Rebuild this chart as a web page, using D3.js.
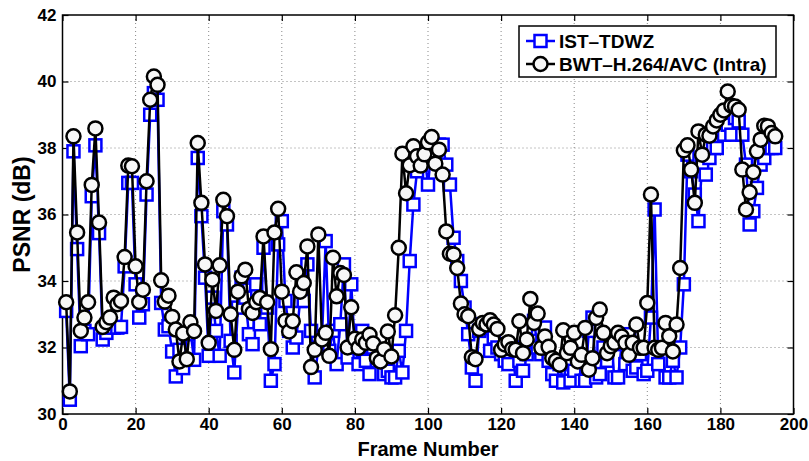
<!DOCTYPE html>
<html><head><meta charset="utf-8">
<script src="https://cdn.jsdelivr.net/npm/d3@7"></script>
<style>body{margin:0;background:#fff}svg{display:block}text{font-family:"Liberation Sans",Arial,sans-serif;font-weight:bold}</style>
</head><body><svg id="c" width="809" height="461"></svg>
<script>
const istTDWZ = [33.1,30.43,37.9,34.96,32.04,32.5,32.4,36.55,38.08,35.44,32.24,32.44,32.6,32.6,32.6,32.62,34.44,36.95,36.95,33.9,
32.9,33.3,36.6,39.0,39.65,39.45,33.34,32.54,32.64,31.88,31.13,31.93,31.38,32.4,32.5,31.63,37.7,35.95,34.1,31.75,
33.5,32.5,31.75,36.1,35.7,32.2,31.25,33.2,34.1,33.5,32.4,32.1,33.9,32.7,35.0,33.2,31.0,31.5,35.1,35.8,
33.4,32.5,32.0,32.3,33.4,33.4,34.5,32.5,31.1,32.0,32.3,35.2,31.9,32.5,31.5,32.7,34.5,31.7,33.9,32.0,
31.5,32.5,31.6,31.2,32.0,31.6,31.7,31.2,31.3,31.1,31.1,31.9,31.25,32.5,34.6,36.3,37.3,37.5,37.8,36.9,
38.0,37.7,38.1,38.1,37.5,36.9,35.3,34.6,34.0,33.2,32.4,31.4,31.0,32.5,32.7,32.6,31.9,32.3,32.0,31.8,
31.6,31.5,32.0,31.0,31.6,31.3,31.8,32.2,32.8,32.0,31.8,32.6,31.6,31.2,31.0,31.5,30.95,31.6,31.0,31.3,
31.8,31.0,31.0,32.5,32.9,31.1,31.2,32.0,31.6,32.2,31.1,31.1,32.1,31.5,32.4,31.3,31.4,31.8,31.2,31.3,
32.9,36.15,31.5,32.0,31.1,31.1,31.6,31.1,32.0,33.9,37.8,37.3,36.6,35.8,37.5,37.2,37.7,38.0,38.0,38.5,
38.4,38.7,38.4,38.9,38.8,38.4,37.5,35.7,36.1,36.8,37.5,37.7,38.0,38.0,38.0];
const bwtH264 = [33.36,30.68,38.35,35.46,32.5,32.9,33.36,36.89,38.59,35.76,32.62,32.76,32.9,33.5,33.3,33.4,34.72,37.47,37.45,34.44,
33.37,33.74,37.0,39.45,40.15,39.9,34.02,33.38,33.56,32.92,32.54,31.58,32.42,31.65,32.76,32.49,38.15,36.35,34.5,32.14,
34.04,33.1,34.47,36.44,35.95,33.0,31.93,33.68,34.14,34.34,33.16,33.04,33.36,33.49,35.34,33.36,31.95,35.46,36.17,33.68,
32.8,32.48,32.79,34.26,33.68,33.94,35.04,31.41,31.93,35.4,32.24,32.44,31.75,34.7,33.54,34.24,34.18,32.0,33.21,32.26,
31.99,32.24,32.14,32.38,32.12,31.68,31.58,31.95,32.48,31.73,32.97,35.0,37.83,36.64,37.48,38.05,37.75,37.47,37.81,38.17,
38.33,37.53,37.95,37.2,35.49,34.82,34.8,34.39,33.32,33.0,32.94,31.71,31.65,32.56,32.74,32.69,32.82,32.69,32.56,31.93,
32.09,32.16,31.95,31.93,32.79,31.83,32.24,33.46,32.74,33.02,31.99,32.33,32.02,31.68,31.6,31.48,32.52,31.83,31.99,32.44,
31.58,31.78,32.59,31.33,31.68,32.89,33.14,32.44,31.83,32.04,32.14,32.44,32.33,32.14,31.78,32.14,32.69,31.99,31.99,33.34,
36.6,31.99,31.93,31.99,32.74,32.34,31.88,32.69,34.39,37.93,38.08,37.35,36.35,38.5,37.8,38.4,38.37,38.65,38.83,39.0,
39.13,39.7,39.27,39.25,39.15,37.35,36.15,36.67,37.27,37.9,38.25,38.67,38.65,38.45,38.35];
const frames = istTDWZ.map((d,i)=>i+1);
const xTicks = [0,20,40,60,80,100,120,140,160,180,200];
const yTicks = [30,32,34,36,38,40,42];
const seriesNames = ["IST\u2013TDWZ","BWT\u2013H.264/AVC (Intra)"];
const xLabel = "Frame Number", yLabel = "PSNR (dB)";

const svg = d3.select("#c");
const L=62.5,R=793.5,T=15,B=414;
const x = d3.scaleLinear().domain([0,200]).range([L,R]);
const y = d3.scaleLinear().domain([30,42]).range([B,T]);

// grid
const g = svg.append("g");
g.selectAll(".gx").data(xTicks.slice(1,-1)).join("line").attr("x1",d=>x(d)).attr("x2",d=>x(d)).attr("y1",T).attr("y2",B)
 .attr("stroke","#888").attr("stroke-width",1).attr("stroke-dasharray","1,3");
g.selectAll(".gy").data(yTicks.slice(1,-1)).join("line").attr("y1",d=>y(d)).attr("y2",d=>y(d)).attr("x1",L).attr("x2",R)
 .attr("stroke","#888").attr("stroke-width",1).attr("stroke-dasharray","1,3");

// axes
const xa = svg.append("g").attr("transform",`translate(0,${B})`).call(d3.axisBottom(x).tickValues(xTicks).tickSizeInner(-6).tickSizeOuter(0).tickPadding(4));
const xa2 = svg.append("g").attr("transform",`translate(0,${T})`).call(d3.axisTop(x).tickValues(xTicks).tickSizeInner(-6).tickSizeOuter(0).tickFormat(""));
const ya = svg.append("g").attr("transform",`translate(${L},0)`).call(d3.axisLeft(y).tickValues(yTicks).tickSizeInner(-6).tickSizeOuter(0).tickPadding(6));
const ya2 = svg.append("g").attr("transform",`translate(${R},0)`).call(d3.axisRight(y).tickValues(yTicks).tickSizeInner(-6).tickSizeOuter(0).tickFormat(""));
[xa,xa2,ya,ya2].forEach(a=>{a.select(".domain").remove();a.selectAll("line").attr("stroke","#000").attr("stroke-width",1.2);
 a.selectAll("text").attr("font-size",17).attr("font-weight","bold").attr("fill","#000").attr("font-family","Liberation Sans, Arial, sans-serif");});
svg.append("rect").attr("x",L).attr("y",T).attr("width",R-L).attr("height",B-T).attr("fill","none").attr("stroke","#000").attr("stroke-width",1.5);

// series
const line = d3.line().x((d,i)=>x(frames[i])).y(d=>y(d));
svg.append("path").datum(istTDWZ).attr("d",line).attr("fill","none").attr("stroke","#0000ff").attr("stroke-width",2.5);
svg.append("g").selectAll("rect").data(istTDWZ).join("rect")
 .attr("x",(d,i)=>x(frames[i])-6).attr("y",d=>y(d)-6).attr("width",12).attr("height",12)
 .attr("fill","#fff").attr("stroke","#0000ff").attr("stroke-width",2.5);
svg.append("path").datum(bwtH264).attr("d",line).attr("fill","none").attr("stroke","#000").attr("stroke-width",2.5);
svg.append("g").selectAll("circle").data(bwtH264).join("circle")
 .attr("cx",(d,i)=>x(frames[i])).attr("cy",d=>y(d)).attr("r",7)
 .attr("fill","#f7f7f7").attr("stroke","#000").attr("stroke-width",2.5);

// labels
svg.append("text").attr("x",(L+R)/2).attr("y",456).attr("text-anchor","middle").attr("font-size",20).text(xLabel);
svg.append("text").attr("transform",`translate(30,${(T+B)/2}) rotate(-90)`).attr("text-anchor","middle").attr("font-size",23).text(yLabel);

// legend
const lg = svg.append("g");
lg.append("rect").attr("x",519).attr("y",26).attr("width",257).attr("height",51).attr("fill","#fff").attr("stroke","#000").attr("stroke-width",1.5);
const ly=[41,64];
lg.append("line").attr("x1",526).attr("x2",555).attr("y1",ly[0]).attr("y2",ly[0]).attr("stroke","#0000ff").attr("stroke-width",2.5);
lg.append("rect").attr("x",540.5-6).attr("y",ly[0]-6).attr("width",12).attr("height",12).attr("fill","#fff").attr("stroke","#0000ff").attr("stroke-width",2.5);
lg.append("line").attr("x1",526).attr("x2",555).attr("y1",ly[1]).attr("y2",ly[1]).attr("stroke","#000").attr("stroke-width",2.5);
lg.append("circle").attr("cx",540.5).attr("cy",ly[1]).attr("r",7).attr("fill","#f7f7f7").attr("stroke","#000").attr("stroke-width",2.5);
lg.selectAll("text.l").data(seriesNames).join("text").attr("x",559).attr("y",(d,i)=>ly[i]+7).attr("font-size",19).text(d=>d);
</script></body></html>
